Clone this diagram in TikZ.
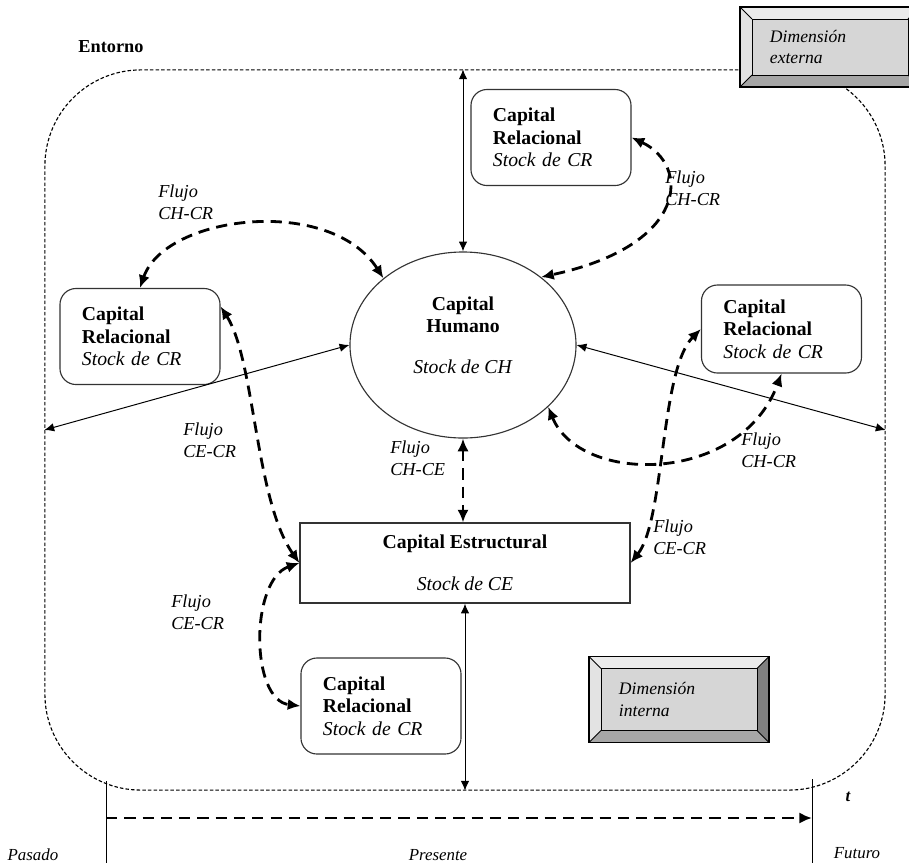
\documentclass[tikz,border=0pt]{standalone}
\usepackage{fontspec}
\setmainfont{Liberation Serif}
\usetikzlibrary{positioning,calc,arrows.meta,shapes.geometric}

\newcommand{\boxfont}{\fontsize{14}{16}\selectfont}
\newcommand{\flowfont}{\fontsize{13}{15}\selectfont\itshape}
\newcommand{\dimfont}{\fontsize{12.5}{15.5}\selectfont\itshape}
\newcommand{\timefont}{\fontsize{12}{14}\selectfont\itshape}

\begin{document}
\begin{tikzpicture}[x=0.025cm,y=-0.025cm,>={Latex[length=7pt,width=6pt]},auto]
  \useasboundingbox (0,0) rectangle (909,863);
  \tikzset{
    entorno/.style={rectangle,draw=black,line width=0.8pt,dash pattern=on 2.5pt off 1.5pt,
      rounded corners=2.4cm,minimum width=21cm,minimum height=18cm},
    humano/.style={ellipse,draw=black!80,line width=0.8pt,minimum width=5.65cm,minimum height=4.65cm},
    relacional/.style={rectangle,rounded corners=0.4cm,draw=black!80,line width=0.8pt,
      minimum width=4cm,minimum height=2.4cm,text width=2.9cm,inner xsep=0.55cm,align=left,font=\boxfont},
    estructural/.style={rectangle,draw=black!80,line width=0.8pt,minimum width=8.25cm,
      minimum height=2cm,align=center,font=\boxfont},
    dimension/.style={rectangle,draw=black,line width=0.8pt,fill=black!16,minimum height=2.1cm,
      text width=3cm,inner xsep=0.75cm,align=left,font=\dimfont,
      path picture={
        \coordinate (bnw) at (path picture bounding box.north west);
        \coordinate (bne) at (path picture bounding box.north east);
        \coordinate (bsw) at (path picture bounding box.south west);
        \coordinate (bse) at (path picture bounding box.south east);
        \coordinate (inw) at ([shift={(0.3cm,-0.3cm)}]bnw);
        \coordinate (ine) at ([shift={(-0.3cm,-0.3cm)}]bne);
        \coordinate (isw) at ([shift={(0.3cm,0.3cm)}]bsw);
        \coordinate (ise) at ([shift={(-0.3cm,0.3cm)}]bse);
        \fill[black!8] (bnw) -- (bne) -- (ine) -- (inw) -- cycle;
        \fill[black!11] (bnw) -- (inw) -- (isw) -- (bsw) -- cycle;
        \fill[black!50] (bne) -- (bse) -- (ise) -- (ine) -- cycle;
        \fill[black!35] (bsw) -- (bse) -- (ise) -- (isw) -- cycle;
        \draw[line width=0.6pt] (inw) rectangle (ise);
        \draw[line width=0.6pt] (bnw) -- (inw) (bne) -- (ine) (bsw) -- (isw) (bse) -- (ise);
      }},
    % edge styles
    link/.style={<->,line width=0.7pt},
    flow/.style={{Latex[length=9pt,width=8pt]}-{Latex[length=9pt,width=8pt]},
      line width=2pt,dash pattern=on 8pt off 5pt},
    % label styles
    flowlabel/.style={anchor=north west,inner sep=0pt,align=left,font=\flowfont},
    timelabel/.style={font=\timefont}
  }

  %%% Entorno y dimension externa
  \node[entorno] (env) at (465,430) {};
  \node[font=\fontsize{13}{15}\selectfont\bfseries] (entlabel) at (111,47) {Entorno};
  \node[dimension,minimum height=2cm] (dimext) at (830,47) {Dimensión\\externa};

  %%% Stocks de capital
  \node[humano] (ch) at (463,345) {};
  \node[align=center,font=\boxfont] (chtext) at (463,335)
    {\textbf{Capital}\\\textbf{Humano}\\[0.45cm]\textit{Stock de CH}};

  \node[relacional] (crtop) at (551,137.5)
    {\textbf{Capital}\\\textbf{Relacional}\\\textit{Stock de CR}};
  \node[relacional] (crleft) at (140,336.5)
    {\textbf{Capital}\\\textbf{Relacional}\\\textit{Stock de CR}};
  \node[relacional,minimum height=2.2cm] (crright) at (781.5,329)
    {\textbf{Capital}\\\textbf{Relacional}\\\textit{Stock de CR}};
  \node[relacional] (crbot) at (381,706)
    {\textbf{Capital}\\\textbf{Relacional}\\\textit{Stock de CR}};

  \node[estructural] (ce) at (465,563)
    {\textbf{Capital Estructural}\\[14pt]\textit{Stock de CE}};

  \node[dimension,minimum height=2.15cm] (dimint) at (679,699.5) {Dimensión\\interna};

  %%% Relaciones con el entorno
  \draw[link] (ch.north) -- (ch.north |- env.north);
  \draw[link] (env.west) -- (ch.west);
  \draw[link] (ch.east) -- (env.east);
  \draw[link] (ce.south) -- (ce.south |- env.south);

  %%% Flujos
  \draw[flow] (crleft.north) .. controls (165,215) and (330,195) .. (ch.140);
  \draw[flow] (crtop.east) .. controls (690,165) and (690,245) .. (ch.41);
  \draw[flow] (ch.-36) .. controls (580,485) and (740,485) .. (crright.south);
  \draw[flow] ([yshift=0.75cm]crleft.east) .. controls (255,360) and (255,500) .. (ce.west);
  \draw[flow] (ce.west) .. controls (250,580) and (250,700) .. (crbot.west);
  \draw[flow] (ch.south) -- (ch.south |- ce.north);
  \draw[flow] (ce.east) .. controls (665,520) and (660,370) .. (crright.west);

  \node[flowlabel] (f1) at (158,185) {Flujo\\CH-CR};
  \node[flowlabel] (f2) at (665,171) {Flujo\\CH-CR};
  \node[flowlabel] (f3) at (741,433) {Flujo\\CH-CR};
  \node[flowlabel] (f4) at (183,423) {Flujo\\CE-CR};
  \node[flowlabel] (f5) at (171,595) {Flujo\\CE-CR};
  \node[flowlabel] (f6) at (390,441) {Flujo\\CH-CE};
  \node[flowlabel] (f7) at (653,520) {Flujo\\CE-CR};

  %%% Eje temporal
  \coordinate (pasadoline) at (106,781);
  \coordinate (futuroline) at (812,779);
  \draw[line width=0.7pt] (pasadoline) -- (pasadoline |- 0,863);
  \draw[line width=0.7pt] (futuroline) -- (futuroline |- 0,863);
  \coordinate (tstart) at (106,818);
  \coordinate (tend) at (812,818);
  \draw[flow,-{Latex[length=9pt,width=8pt]}] (tstart) -- (tend);

  \node[font=\fontsize{12}{14}\selectfont\bfseries\itshape] (tlabel) at (848,797) {t};
  \node[timelabel] (pasado) at (33,855) {Pasado};
  \node[timelabel] (presente) at (438,855) {Presente};
  \node[timelabel] (futuro) at (857,853) {Futuro};
\end{tikzpicture}
\end{document}
